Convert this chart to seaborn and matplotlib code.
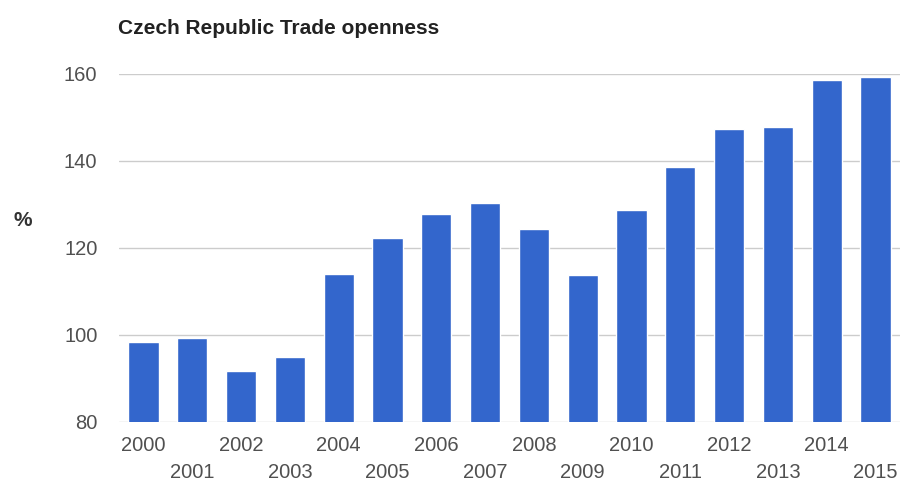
import matplotlib
matplotlib.use("Agg")
import matplotlib.pyplot as plt
import matplotlib.transforms as mtransforms
import seaborn as sns
import pandas as pd

years = [str(y) for y in range(2000, 2016)]
openness = [98.4, 99.2, 91.7, 95.0, 114.0, 122.2, 127.8, 130.4,
            124.4, 113.8, 128.8, 138.6, 147.4, 147.8, 158.6, 159.3]
yticks = [80, 100, 120, 140, 160]
title = "Czech Republic Trade openness"
ylabel = "%"

sns.set_theme(style="white")
plt.rcParams['font.family'] = ['Liberation Sans', 'DejaVu Sans']

df = pd.DataFrame({"year": years, "value": openness})

fig = plt.figure(figsize=(9.01, 4.82), dpi=100)
ax = fig.add_axes([119 / 901, 1 - 421.7 / 482, (900 - 119) / 901, (421.7 - 74) / 482])

sns.barplot(data=df, x="year", y="value", color="#3366CC", saturation=1,
            width=0.62, ax=ax, zorder=3)

ax.set_ylim(80, 160)
ax.set_xlim(-0.5, len(years) - 0.5)
ax.set_yticks(yticks)
ax.set_yticklabels([str(t) for t in yticks])
ax.set_xlabel("")
ax.set_ylabel("")
for s in ax.spines.values():
    s.set_visible(False)
ax.grid(axis="y", color="#cccccc", linewidth=1, zorder=0)
ax.grid(axis="x", visible=False)
ax.tick_params(axis="both", length=0, labelsize=14.5, labelcolor="#505050")
ax.tick_params(axis="y", pad=15.5)
ax.tick_params(axis="x", pad=10)

offset = mtransforms.ScaledTranslation(0, -27 / 100, fig.dpi_scale_trans)
for i, lab in enumerate(ax.get_xticklabels()):
    if i % 2 == 1:
        lab.set_transform(lab.get_transform() + offset)

fig.text(118 / 901, 1 - 28 / 482, title, fontsize=15, fontweight="bold",
         color="#222222", ha="left", va="center")
fig.text(23 / 901, 1 - 221 / 482, ylabel, fontsize=15, fontweight="bold",
         color="#333333", ha="center", va="center")

fig.savefig("out.png", dpi=100)
